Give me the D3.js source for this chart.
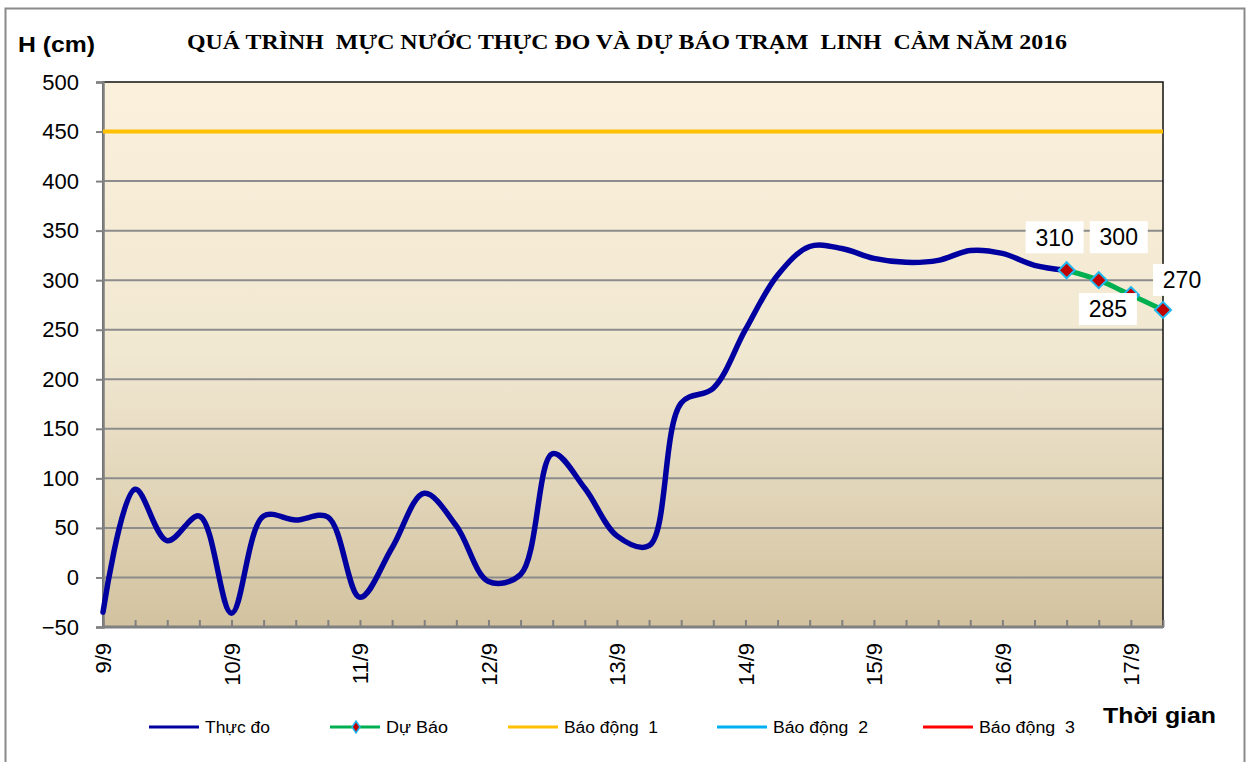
<!DOCTYPE html>
<html><head><meta charset="utf-8">
<script src="https://cdn.jsdelivr.net/npm/d3@7"></script>
<style>body{margin:0;background:#fff}svg{display:block}text{white-space:pre}</style>
</head><body><svg id="c" width="1251" height="762"></svg>
<script>
// ---- data ----
const days = ["9/9","10/9","11/9","12/9","13/9","14/9","15/9","16/9","17/9"];
const hours = ["01h","07h","13h","19h"];
const categories = days.flatMap(d => hours.map(h => h + " " + d)).slice(0, 34);
const tickLabels = days; // shown at the first slot of each day
const measured = [-35, 89, 37, 62, -36, 62, 58, 61, -20, 30, 85, 52, -4, 3, 125, 90, 42, 32,
                  176, 191, 250, 305, 334, 332, 322, 318, 320, 330, 327, 315, 310];
const forecast = [310, 300, 285, 270];
const forecastStartIndex = 30;
const alarmLevels = [450, 550, 650];
const yTicks = [-50, 0, 50, 100, 150, 200, 250, 300, 350, 400, 450, 500];
const legendLabels = ["Thực đo", "Dự Báo", "Báo động  1", "Báo động  2", "Báo động  3"];
const titleText = "QUÁ TRÌNH  MỰC NƯỚC THỰC ĐO VÀ DỰ BÁO TRẠM  LINH  CẢM NĂM 2016";

// ---- layout / style ----
const L = 103, R = 1163, T = 82, B = 627;
const colors = { measured: "#0000A0", forecast: "#00B050", a1: "#FFC000", a2: "#00B0F0", a3: "#FF0000" };
const labelOffsets = [[-12, -33], [20, -43], [-23, 14], [19, -30]];

const svg = d3.select("#c");
svg.append("rect").attr("width", 1251).attr("height", 762).attr("fill", "#fff");
svg.append("rect").attr("x", 5.5).attr("y", 8.5).attr("width", 1239).attr("height", 800)
  .attr("fill", "none").attr("stroke", "#8a8a8a").attr("stroke-width", 2);

const defs = svg.append("defs");
const g = defs.append("linearGradient").attr("id", "bg").attr("x1", 0).attr("y1", 0).attr("x2", 0).attr("y2", 1);
g.append("stop").attr("offset", "0%").attr("stop-color", "#FBF0DB");
g.append("stop").attr("offset", "50%").attr("stop-color", "#F1E8D2");
g.append("stop").attr("offset", "100%").attr("stop-color", "#D2C29F");
defs.append("clipPath").attr("id", "clip").append("rect")
  .attr("x", L).attr("y", T).attr("width", R - L).attr("height", B - T);

const x = d3.scalePoint().domain(categories).range([L, R]);
const y = d3.scaleLinear().domain([-50, 500]).range([B, T]);

svg.append("rect").attr("x", L).attr("y", T).attr("width", R - L).attr("height", B - T).attr("fill", "url(#bg)");

// gridlines
svg.append("g").selectAll("line").data(yTicks.filter(v => v > -50 && v < 500)).join("line")
  .attr("x1", L).attr("x2", R).attr("y1", d => y(d)).attr("y2", d => y(d))
  .attr("stroke", "#8c8c8c").attr("stroke-width", 2);

// plot border
svg.append("rect").attr("x", L).attr("y", T).attr("width", R - L).attr("height", B - T)
  .attr("fill", "none").attr("stroke", "#111").attr("stroke-width", 1.5);

// y axis
const yAxis = svg.append("g").attr("transform", `translate(${L},0)`)
  .call(d3.axisLeft(y).tickValues(yTicks).tickSize(7).tickPadding(17).tickFormat(d3.format("d")));
yAxis.select(".domain").attr("stroke", "#808080").attr("stroke-width", 2.5);
yAxis.selectAll(".tick line").attr("stroke", "#808080").attr("stroke-width", 2);
yAxis.selectAll(".tick text").attr("font-family", "Liberation Sans, Arial, sans-serif")
  .attr("font-size", 22).attr("fill", "#000");

// x axis ticks (inward)
const xAxis = svg.append("g").attr("transform", `translate(0,${B})`)
  .call(d3.axisBottom(x).tickSizeInner(-7).tickSizeOuter(0).tickFormat(""));
xAxis.select(".domain").attr("stroke", "#808080").attr("stroke-width", 3).attr("d", `M${L},0H${R}`);
xAxis.selectAll(".tick line").attr("stroke", "#808080").attr("stroke-width", 2);

// x labels
const labelCats = categories.filter((c, i) => i % hours.length === 0);
const xLab = svg.append("g").attr("transform", `translate(0,${B})`)
  .call(d3.axisBottom(x).tickValues(labelCats).tickSize(0)
    .tickFormat(c => tickLabels[categories.indexOf(c) / hours.length]));
xLab.select(".domain").remove();
xLab.selectAll(".tick line").remove();
xLab.selectAll(".tick text")
  .attr("font-family", "Liberation Sans, Arial, sans-serif").attr("font-size", 22).attr("fill", "#000")
  .attr("transform", "rotate(-90)").attr("text-anchor", "end")
  .attr("x", -16).attr("y", 0).attr("dy", "0.36em");

// alarm lines
const plot = svg.append("g").attr("clip-path", "url(#clip)");
const alarmColors = [colors.a1, colors.a2, colors.a3];
plot.selectAll("line.alarm").data(alarmLevels).join("line").attr("class", "alarm")
  .attr("x1", L).attr("x2", R).attr("y1", d => y(d)).attr("y2", d => y(d))
  .attr("stroke", (d, i) => alarmColors[i]).attr("stroke-width", 4);

// measured line
const line = d3.line().x(d => x(d.c)).y(d => y(d.v)).curve(d3.curveCatmullRom.alpha(0.5));
const mData = measured.map((v, i) => ({ c: categories[i], v }));
svg.append("path").datum(mData).attr("d", line).attr("fill", "none")
  .attr("stroke", colors.measured).attr("stroke-width", 5.5).attr("stroke-linejoin", "round").attr("stroke-linecap", "round");

// forecast line
const fData = forecast.map((v, i) => ({ c: categories[forecastStartIndex + i], v }));
svg.append("path").datum(fData).attr("d", line).attr("fill", "none")
  .attr("stroke", colors.forecast).attr("stroke-width", 5);
const diamond = "M0,-8L8,0L0,8L-8,0Z";
svg.append("g").selectAll("path").data(fData).join("path")
  .attr("d", diamond).attr("transform", d => `translate(${x(d.c)},${y(d.v)})`)
  .attr("fill", "#C00000").attr("stroke", "#1FB8F0").attr("stroke-width", 2);

// data labels
const lbl = svg.append("g").selectAll("g").data(fData).join("g")
  .attr("transform", (d, i) => `translate(${x(d.c) + labelOffsets[i][0]},${y(d.v) + labelOffsets[i][1]})`);
lbl.append("rect").attr("x", -29).attr("y", -16).attr("width", 58).attr("height", 32).attr("fill", "#fff");
lbl.append("text").text(d => d.v).attr("text-anchor", "middle").attr("dy", "0.36em")
  .attr("font-family", "Liberation Sans, Arial, sans-serif").attr("font-size", 23).attr("fill", "#000");

// title & axis titles
svg.append("text").text(titleText).attr("x", 627).attr("y", 49).attr("text-anchor", "middle")
  .attr("font-family", "Liberation Serif, Times New Roman, serif").attr("font-weight", "bold")
  .attr("font-size", 21).attr("textLength", 880).attr("lengthAdjust", "spacingAndGlyphs");
svg.append("text").text("H (cm)").attr("x", 18).attr("y", 52)
  .attr("font-family", "Liberation Sans, Arial, sans-serif").attr("font-weight", "bold")
  .attr("font-size", 22).attr("textLength", 77).attr("lengthAdjust", "spacingAndGlyphs");
svg.append("text").text("Thời gian").attr("x", 1103).attr("y", 723)
  .attr("font-family", "Liberation Sans, Arial, sans-serif").attr("font-weight", "bold")
  .attr("font-size", 22).attr("textLength", 113).attr("lengthAdjust", "spacingAndGlyphs");

// legend
const legX = [149, 330, 508, 717, 923];
const legTextW = [65, 62, 94, 95, 96];
const legColors = [colors.measured, colors.forecast, colors.a1, colors.a2, colors.a3];
const leg = svg.append("g").selectAll("g").data(legendLabels).join("g")
  .attr("transform", (d, i) => `translate(${legX[i]},727)`);
leg.append("line").attr("x1", 0).attr("x2", 50).attr("stroke", (d, i) => legColors[i]).attr("stroke-width", 3);
leg.filter((d, i) => i === 1).append("path").attr("d", "M0,-6L4,0L0,6L-4,0Z").attr("transform", "translate(26,0)")
  .attr("fill", "#C00000").attr("stroke", "#1FB8F0").attr("stroke-width", 1.5);
leg.append("text").text(d => d).attr("x", 56).attr("dy", "0.36em")
  .attr("font-family", "Liberation Sans, Arial, sans-serif").attr("font-size", 16)
  .attr("textLength", (d, i) => legTextW[i]).attr("lengthAdjust", "spacingAndGlyphs");
</script></body></html>
